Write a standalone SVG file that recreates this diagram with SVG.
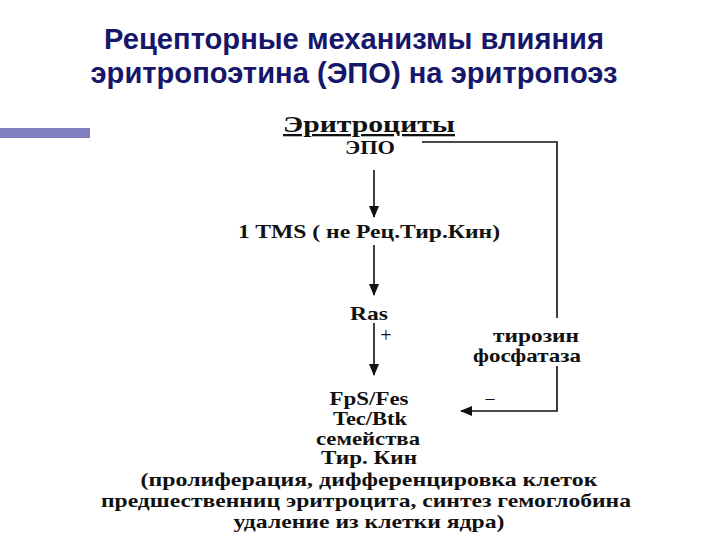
<svg xmlns="http://www.w3.org/2000/svg" width="720" height="540" viewBox="0 0 720 540">
<style>
.title{font-family:"Liberation Sans","DejaVu Sans",sans-serif;font-weight:bold;font-size:29px;fill:#16166a;text-anchor:middle}
.t{font-family:"Liberation Serif","DejaVu Serif",serif;font-weight:bold;font-size:19px;fill:#111;text-anchor:middle}
.ln{stroke:#111;stroke-width:1.6;fill:none}
</style>
<defs>
<marker id="ah" markerWidth="12" markerHeight="10" refX="11" refY="5" orient="auto" markerUnits="userSpaceOnUse">
<path d="M0,0 L12,5 L0,10 z" fill="#111"/>
</marker>
</defs>
<rect width="720" height="540" fill="#fff"/>
<g id="title">
<text class="title" x="354" y="49" textLength="500" lengthAdjust="spacingAndGlyphs">Рецепторные механизмы влияния</text>
<text class="title" x="354" y="83" textLength="527" lengthAdjust="spacingAndGlyphs">эритропоэтина (ЭПО) на эритропоэз</text>
</g>
<rect x="0" y="128" width="90" height="10" fill="#7f7fbf"/>
<g id="erythrocytes">
<text class="t" x="369" y="132" textLength="172" lengthAdjust="spacingAndGlyphs" style="font-size:23px;text-decoration:underline">Эритроциты</text>
</g>
<g id="epo"><text class="t" x="370" y="154" textLength="50" lengthAdjust="spacingAndGlyphs">ЭПО</text></g>
<g id="tms"><text class="t" x="369" y="238" textLength="262" lengthAdjust="spacingAndGlyphs">1 TMS ( не Рец.Тир.Кин)</text></g>
<g id="ras"><text class="t" x="369" y="320" textLength="38" lengthAdjust="spacingAndGlyphs">Ras</text></g>
<g id="phosphatase">
<text class="t" x="536" y="342" textLength="86" lengthAdjust="spacingAndGlyphs">тирозин</text>
<text class="t" x="527" y="362" textLength="108" lengthAdjust="spacingAndGlyphs">фосфатаза</text>
</g>
<g id="kinases">
<text class="t" x="369" y="405" textLength="79" lengthAdjust="spacingAndGlyphs">FpS/Fes</text>
<text class="t" x="370" y="425" textLength="74" lengthAdjust="spacingAndGlyphs">Tec/Btk</text>
<text class="t" x="368" y="445" textLength="104" lengthAdjust="spacingAndGlyphs">семейства</text>
<text class="t" x="369" y="464" textLength="96" lengthAdjust="spacingAndGlyphs">Тир. Кин</text>
<text class="t" x="369" y="486" textLength="457" lengthAdjust="spacingAndGlyphs">(пролиферация, дифференцировка клеток</text>
<text class="t" x="366" y="507" textLength="530" lengthAdjust="spacingAndGlyphs">предшественниц эритроцита, синтез гемоглобина</text>
<text class="t" x="369" y="528" textLength="271" lengthAdjust="spacingAndGlyphs">удаление из клетки ядра)</text>
</g>
<g id="connectors">
<line class="ln" x1="374" y1="170" x2="374" y2="217" marker-end="url(#ah)"/>
<line class="ln" x1="374" y1="245" x2="374" y2="295" marker-end="url(#ah)"/>
<line class="ln" x1="374" y1="323" x2="374" y2="375" marker-end="url(#ah)"/>
<polyline class="ln" points="422,142 557,142 557,318"/>
<polyline class="ln" points="557,366 557,411 461,411" marker-end="url(#ah)"/>
<text class="t" x="386" y="342" style="font-weight:normal;font-size:20px">+</text>
<text class="t" x="490" y="404" style="font-weight:normal;font-size:18px">–</text>
</g>
</svg>
